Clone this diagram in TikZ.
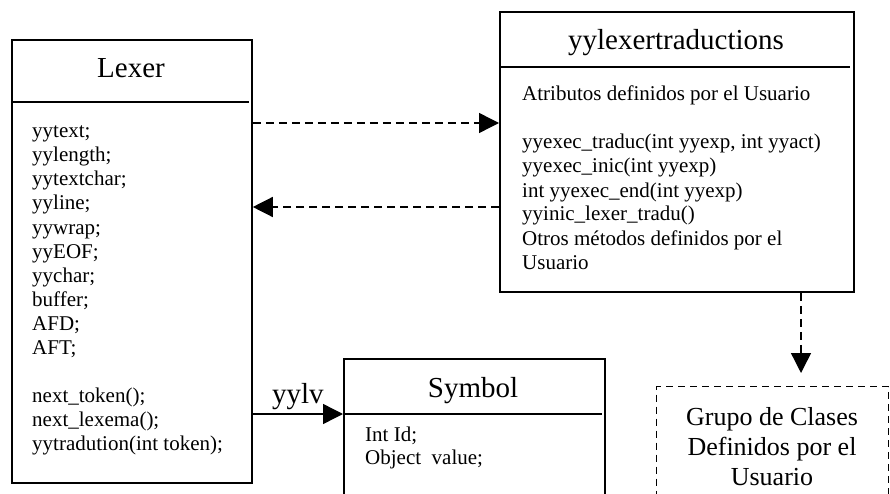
\documentclass[tikz,border=0pt]{standalone}
\usepackage{fontspec}
\setmainfont{Liberation Serif}
\usetikzlibrary{arrows.meta,positioning}

\begin{document}
\begin{tikzpicture}[x=1pt,y=-1pt,>={Triangle[length=20pt,width=20pt]},
    class/.style={draw,line width=1.8pt,anchor=north west,inner sep=0pt},
    title/.style={font=\fontsize{29}{33}\selectfont,anchor=base},
    member/.style={font=\fontsize{21}{24}\selectfont,anchor=base west,inner sep=0pt},
    dep/.style={->,dash pattern=on 8pt off 5pt,line width=1.4pt},
    assoc/.style={->,line width=1.4pt}]

    \useasboundingbox (0,0) rectangle (890,494);
    \clip (0,0) rectangle (890,494);

    % class boxes
    \node[class,minimum width=240pt,minimum height=443pt] (lexer) at (11,39) {};
    \node[class,minimum width=354pt,minimum height=280pt] (trad) at (499,11) {};
    \node[class,minimum width=261pt,minimum height=160pt] (symbol) at (343,358) {};
    \node[class,line width=1.4pt,dash pattern=on 7pt off 5pt,minimum width=232pt,minimum height=140pt] (group) at (656,386) {};

    % headers
    \draw[line width=1.8pt] (lexer.west |- 0,102) -- ([xshift=-4pt]lexer.east |- 0,102);
    \draw[line width=1.8pt] (trad.west |- 0,67) -- ([xshift=-5pt]trad.east |- 0,67);
    \draw[line width=1.8pt] (symbol.west |- 0,414) -- ([xshift=-4pt]symbol.east |- 0,414);

    \node[title] (lexertitle) at (131,78) {Lexer};
    \node[title] (tradtitle) at (676,50) {yylexertraductions};
    \node[title] (symboltitle) at (473,397) {Symbol};

    % members
    \foreach \m [count=\i from 0] in {yytext;, yylength;, yytextchar;, yyline;, yywrap;,
        yyEOF;, yychar;, buffer;, AFD;, AFT;, {}, next\_token();, next\_lexema();,
        yytradution(int token);}
      \node[member] (lexer\i) at (32,{138+24*\i}) {\m};

    \foreach \m [count=\i from 0] in {Atributos definidos por el Usuario, {},
        {yyexec\_traduc(int yyexp, int yyact)}, yyexec\_inic(int yyexp),
        int yyexec\_end(int yyexp), yyinic\_lexer\_tradu(), Otros métodos definidos por el,
        Usuario}
      \node[member] (trad\i) at (522,{101+24*\i}) {\m};

    \foreach \m [count=\i from 0] in {Int Id;, Object\ \ value;}
      \node[member] (symbol\i) at (365,{441+23*\i}) {\m};

    \node[font=\fontsize{26}{30}\selectfont,align=center] (grouptext) at (772,447)
      {Grupo de Clases\\Definidos por el\\Usuario};

    % relations
    \draw[dep] (lexer.east |- 0,123) -- (trad.west |- 0,123);
    \draw[dep] (trad.west |- 0,207) -- (lexer.east |- 0,207);
    \draw[assoc] (lexer.east |- 0,414) -- node[above,font=\fontsize{29}{33}\selectfont] (yylv) {yylv} (symbol.west |- 0,414);
    \draw[dep,shorten >=13pt] (801,0 |- trad.south) -- (801,0 |- group.north);

\end{tikzpicture}
\end{document}
